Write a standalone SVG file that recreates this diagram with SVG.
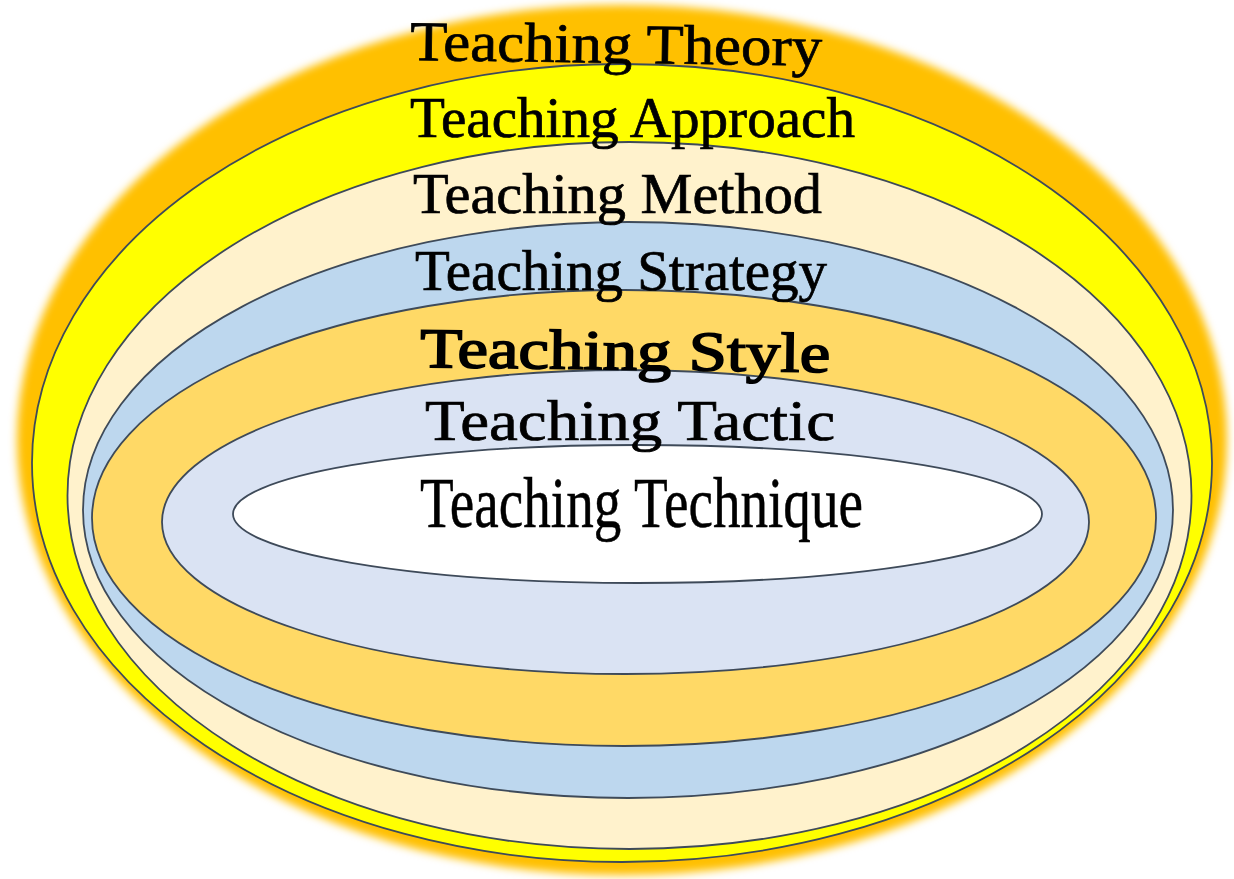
<svg xmlns="http://www.w3.org/2000/svg" width="1234" height="879" viewBox="0 0 1234 879">
  <defs>
    <filter id="soft" x="-5%" y="-5%" width="110%" height="110%">
      <feGaussianBlur stdDeviation="4"/>
    </filter>
  </defs>
  <style>
    .ring { stroke: #3e4a59; stroke-width: 1.8; }
    .lbl { font-family: "Liberation Serif", "DejaVu Serif", serif; font-size: 56px; fill: #000; stroke: #000; stroke-width: 0.7; }
  </style>
  <rect x="0" y="0" width="1234" height="879" fill="#ffffff"/>
  <g id="theory">
    <ellipse cx="622" cy="440" rx="605" ry="435" fill="#FFC000" filter="url(#soft)"/>
  </g>
  <g id="approach">
    <ellipse class="ring" cx="622" cy="463" rx="590" ry="399" fill="#FFFF00"/>
  </g>
  <g id="method">
    <ellipse class="ring" cx="629.5" cy="495.5" rx="562" ry="353.5" fill="#FFF2CC"/>
  </g>
  <g id="strategy">
    <ellipse class="ring" cx="628" cy="510" rx="545" ry="288" fill="#BDD7EE"/>
  </g>
  <g id="style">
    <ellipse class="ring" cx="624" cy="518" rx="532" ry="228" fill="#FFD966"/>
  </g>
  <g id="tactic">
    <ellipse class="ring" cx="625.5" cy="522" rx="463.5" ry="152" fill="#DAE3F3"/>
  </g>
  <g id="technique">
    <ellipse class="ring" cx="637.5" cy="514" rx="404.5" ry="69" fill="#FFFFFF"/>
  </g>
  <g id="labels">
    <text id="label-theory" class="lbl" x="410" y="60" textLength="412" lengthAdjust="spacingAndGlyphs" transform="rotate(0.8 410 60)">Teaching Theory</text>
    <text id="label-approach" class="lbl" x="410" y="137" textLength="445" lengthAdjust="spacingAndGlyphs">Teaching Approach</text>
    <text id="label-method" class="lbl" x="413" y="213" textLength="409" lengthAdjust="spacingAndGlyphs">Teaching Method</text>
    <text id="label-strategy" class="lbl" x="415" y="290" textLength="412" lengthAdjust="spacingAndGlyphs">Teaching Strategy</text>
    <text id="label-style" class="lbl" x="420" y="367" textLength="410" lengthAdjust="spacingAndGlyphs" style="stroke-width:1.6" transform="rotate(0.7 420 367)">Teaching Style</text>
    <text id="label-tactic" class="lbl" x="425" y="440" textLength="410" lengthAdjust="spacingAndGlyphs">Teaching Tactic</text>
    <text id="label-technique" class="lbl" x="420" y="527" style="font-size:72px;stroke-width:0.5" textLength="443" lengthAdjust="spacingAndGlyphs">Teaching Technique</text>
  </g>
  <g id="connectors"/>
</svg>
